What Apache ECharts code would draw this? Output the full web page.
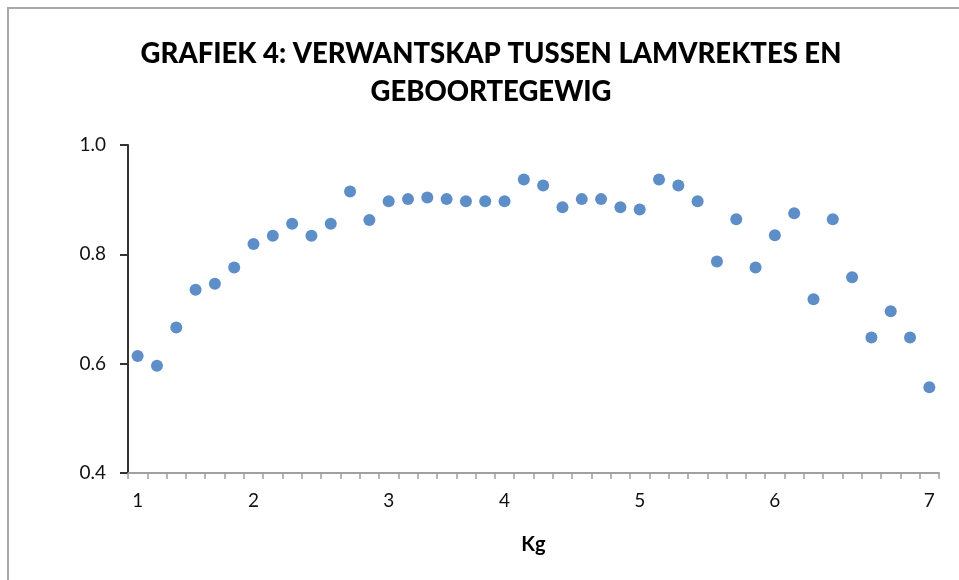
<!DOCTYPE html>
<html>
<head>
<meta charset="utf-8">
<script src="https://cdn.jsdelivr.net/npm/echarts@6/dist/echarts.min.js"></script>
<style>
  html, body { margin: 0; padding: 0; background: #fff; }
  #chart { width: 959px; height: 580px; }
</style>
</head>
<body>
<div id="chart"></div>
<script>
// 42 weight classes on a category axis, only some carry a label
const tickLabels = { 0: '1', 6: '2', 13: '3', 19: '4', 26: '5', 33: '6', 41: '7' };
const values = [
  0.614, 0.596, 0.666, 0.735, 0.746, 0.776, 0.819, 0.834, 0.856, 0.834,
  0.856, 0.915, 0.863, 0.897, 0.901, 0.904, 0.901, 0.897, 0.897, 0.897,
  0.937, 0.926, 0.886, 0.901, 0.901, 0.886, 0.882, 0.937, 0.926, 0.897,
  0.787, 0.864, 0.776, 0.835, 0.875, 0.718, 0.864, 0.758, 0.648, 0.696,
  0.648, 0.557
];
const categories = values.map((v, i) => i);

const chart = echarts.init(document.getElementById('chart'));
const option = {
  animation: false,
  title: {
    text: 'GRAFIEK 4: VERWANTSKAP TUSSEN LAMVREKTES EN\nGEBOORTEGEWIG',
    left: 486,
    top: 30,
    textAlign: 'center',
    textStyle: {
      fontFamily: 'Lato',
      fontWeight: 900,
      fontSize: 27.5,
      lineHeight: 38,
      color: '#000'
    }
  },
  graphic: [{
    type: 'rect',
    shape: { x: 8, y: 8, width: 1000, height: 1000 },
    style: { fill: 'none', stroke: '#a8a8a8', lineWidth: 2 }
  }],
  grid: { left: 128, right: 20, top: 145, bottom: 107 },
  xAxis: {
    type: 'category',
    data: categories,
    boundaryGap: true,
    name: 'Kg',
    nameLocation: 'middle',
    nameGap: 62,
    nameTextStyle: { fontFamily: 'Lato', fontWeight: 'bold', fontSize: 20, color: '#000' },
    axisLine: { lineStyle: { color: '#a0a0a0', width: 2 } },
    axisTick: { show: true, interval: 0, alignWithLabel: false, length: 6, lineStyle: { color: '#a0a0a0', width: 1.5 } },
    axisLabel: {
      interval: 0,
      margin: 18,
      fontFamily: 'Lato',
      fontSize: 19,
      color: '#111',
      formatter: (v) => tickLabels[v] || ''
    },
    splitLine: { show: false }
  },
  yAxis: {
    type: 'value',
    min: 0.4,
    max: 1.0,
    interval: 0.2,
    axisLine: { show: true, lineStyle: { color: '#333', width: 2 } },
    axisTick: { show: true, length: 8, lineStyle: { color: '#333', width: 2 } },
    axisLabel: {
      margin: 22,
      fontFamily: 'Lato',
      fontSize: 19,
      color: '#111',
      formatter: (v) => v.toFixed(1)
    },
    splitLine: { show: false }
  },
  series: [{
    type: 'scatter',
    data: values,
    symbol: 'circle',
    symbolSize: 12,
    itemStyle: { color: '#3572ba' }
  }]
};
chart.setOption(option);
window.addEventListener('resize', () => chart.resize());
</script>
</body>
</html>
